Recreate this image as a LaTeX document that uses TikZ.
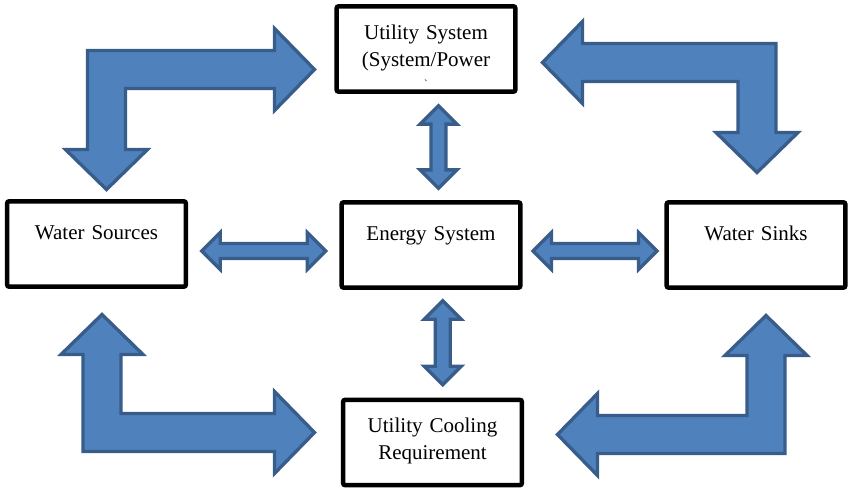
\documentclass[tikz,border=0pt]{standalone}
\usepackage{fontspec}
\setmainfont{Liberation Serif}
\usetikzlibrary{shapes.arrows,calc}

\definecolor{arrowfill}{RGB}{79,129,189}
\definecolor{arrowline}{RGB}{56,93,138}

\begin{document}
\begin{tikzpicture}[
    x=0.75pt, y=-0.75pt,
    box/.style={rectangle, draw, fill=white, line width=3.4pt, rounded corners=1.5pt, text width=130pt, align=center, inner xsep=2pt, inner ysep=0pt, text height=#1, text depth=64pt-#1, font=\fontsize{15.75}{20.5}\selectfont},
    box/.default=29pt,
    bigarrow/.style={draw=arrowline, fill=arrowfill, line width=2.5pt, line join=miter},
    dbl/.style={double arrow, double arrow head extend=8.2pt, inner sep=4.4pt, draw=arrowline, fill=arrowfill, line width=2.5pt}
]
\useasboundingbox (0,0) rectangle (850,491);

% Boxes
\node[box=24.8pt] (util) at (426,49) {Utility System\\(System/Power\\[-5pt]{\footnotesize\textasciigrave}};
\node[box] (src) at (96.5,244) {Water Sources};
\node[box] (esys) at (431,245) {Energy System};
\node[box] (sink) at (756,245) {Water Sinks};
\node[box=24.5pt] (cool) at (432.5,442.5) {Utility Cooling\\Requirement};

% Double arrows between the boxes
\node[dbl, shape border rotate=90, minimum height=62pt] (ue) at ($(util.south)!0.5!(esys.north)+(10,0)$) {};
\node[dbl, shape border rotate=90, minimum height=63pt] (ec) at ($(esys.south)!0.5!(cool.north)+(11,-1)$) {};
\node[dbl, minimum height=93pt] (se) at ($(src.east)!0.5!(esys.west)+(0,6.5)$) {};
\node[dbl, minimum height=93pt] (es) at ($(esys.east)!0.5!(sink.west)+(1.5,6)$) {};

% Bent arrows in the corners
\foreach \vx/\hy/\hx/\vy/\sx/\sy in {106.5/69.5/314.5/189.5/1/1, 757/62.5/542.5/172.5/-1/1, 102/432.5/314.5/314.5/1/-1, 766/434.5/557.5/315.5/-1/-1} {
    \draw[bigarrow] ({\vx-(\sx)*19},{\hy-(\sy)*19}) -- ({\hx-(\sx)*40},{\hy-(\sy)*19})
        -- ({\hx-(\sx)*40},{\hy-(\sy)*41}) -- (\hx,\hy) -- ({\hx-(\sx)*40},{\hy+(\sy)*41})
        -- ({\hx-(\sx)*40},{\hy+(\sy)*19}) -- ({\vx+(\sx)*19},{\hy+(\sy)*19})
        -- ({\vx+(\sx)*19},{\vy-(\sy)*40}) -- ({\vx+(\sx)*41},{\vy-(\sy)*40}) -- (\vx,\vy)
        -- ({\vx-(\sx)*41},{\vy-(\sy)*40}) -- ({\vx-(\sx)*19},{\vy-(\sy)*40}) -- cycle;
}

\end{tikzpicture}
\end{document}
